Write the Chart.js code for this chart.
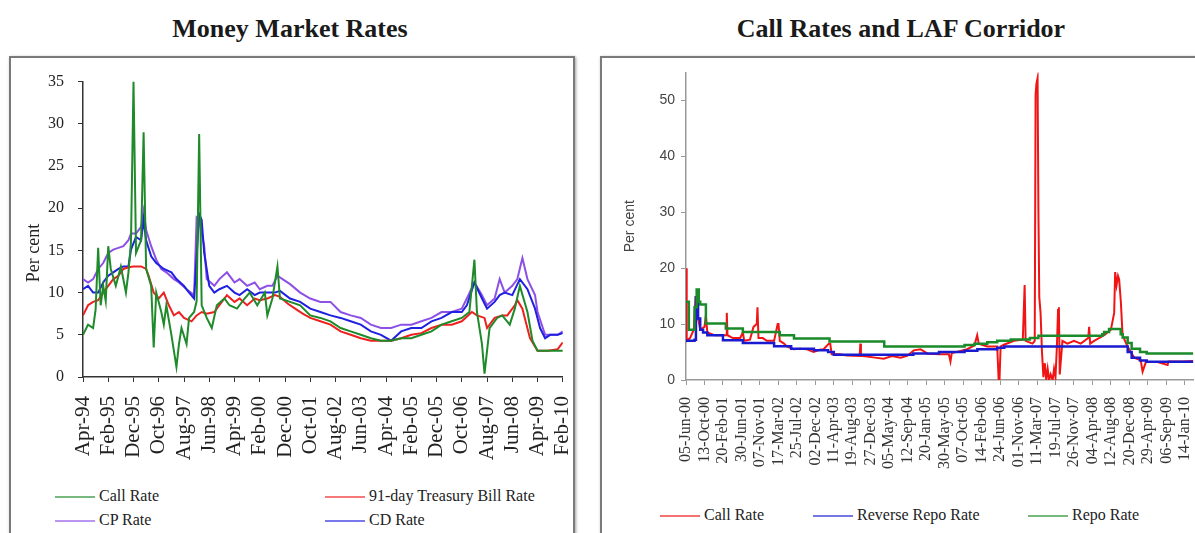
<!DOCTYPE html>
<html>
<head>
<meta charset="utf-8">
<title>Money Market Rates / Call Rates and LAF Corridor</title>
<script src="https://cdn.jsdelivr.net/npm/chart.js"></script>
<style>
    html, body { margin: 0; padding: 0; background: #fff; overflow: hidden; width: 1195px; height: 533px; }
    .title { position: absolute; top: 14px; height: 34px; line-height: 34px; text-align: center;
             font: bold 26px "Liberation Serif", "Times New Roman", serif; color: #1a1a1a; }
    .frame { position: absolute; top: 56px; height: 500px; border: 2px solid #7a7a7a;
             box-shadow: 1px 1px 3px #a0a0a0; background: #fff; }
    canvas { position: absolute; }
    .lg { position: absolute; font: 16px "Liberation Serif", "Times New Roman", serif; color: #222; white-space: nowrap; }
    .lg i { display: inline-block; width: 40px; border-top: 2px solid; vertical-align: middle; margin-right: 4px; opacity: .6; }
</style>
</head>
<body>
    <div class="title" style="left:10px; width:560px;">Money Market Rates</div>
    <div class="title" style="left:601px; width:600px;">Call Rates and LAF Corridor</div>
    <div class="frame" style="left:9px; width:562px;"></div>
    <div class="frame" style="left:600px; width:620px;"></div>
    <canvas id="mm" width="590" height="429" style="left:12px; top:58px;"></canvas>
    <canvas id="laf" width="612" height="422" style="left:604px; top:58px;"></canvas>

    <script>
        // ---- Money Market Rates: x = months since Apr-94 ----
        const mmTicks = ['Apr-94', 'Feb-95', 'Dec-95', 'Oct-96', 'Aug-97', 'Jun-98', 'Apr-99', 'Feb-00', 'Dec-00', 'Oct-01',
                         'Aug-02', 'Jun-03', 'Apr-04', 'Feb-05', 'Dec-05', 'Oct-06', 'Aug-07', 'Jun-08', 'Apr-09', 'Feb-10'];

        const callRate = [[0,5.0],[2,6.2],[4,5.8],[5,8],[6,15.3],[7,8.5],[8,10.8],[9,9],[10,15.5],[11,12.8],[13,10.8],[15,13.1],
            [17,10],[18,12.4],[19,16],[20,35],[21,14.7],[23,16.2],[24,29],[25,12.8],[27,10.8],[28,3.5],[29,10],[31,7.7],[32,6.2],
            [33,8.5],[35,5],[37,1.2],[38,3.9],[39,5.8],[41,3.9],[42,7],[44,7.7],[45,9],[46,28.8],[47,8.5],[49,7],[51,5.8],[53,8.5],
            [56,9.3],[58,8.5],[61,8.1],[64,9.3],[66,10],[69,8.5],[72,10],[73,7.3],[75,9.3],[77,13.1],[78,9.3],[82,8.9],[86,8.5],
            [90,7.3],[94,7],[98,6.6],[102,5.8],[106,5.4],[110,5],[114,4.6],[118,4.3],[122,4.3],[126,4.6],[130,4.6],[134,5],
            [138,5.4],[142,6.2],[146,6.6],[150,7],[153,7.7],[155,13.9],[156,7.7],[158,3.9],[159,0.4],[161,5.8],[164,7],[166,7.3],
            [169,6.2],[171,8.1],[173,10.8],[176,7.7],[178,4.3],[180,3.1],[184,3.1],[190,3.1]];

        const tBill91 = [[0,7.3],[2,8.5],[4,8.9],[6,9.1],[8,10],[10,10.8],[12,11.6],[14,12],[16,12.8],[18,13],[20,13.1],[23,13.1],
            [25,12.8],[26,12],[28,10],[30,9.3],[32,10],[34,8.5],[36,7.3],[38,7.7],[40,7],[43,6.6],[45,7.3],[47,7.7],[49,7.5],
            [52,7.7],[54,8.5],[57,9.7],[60,8.9],[62,9.3],[65,8.5],[68,9.3],[70,9.1],[73,9.3],[76,9.7],[78,9.5],[81,8.7],[84,8.1],
            [87,7.5],[90,7],[94,6.6],[98,6.2],[102,5.4],[106,5],[110,4.6],[114,4.3],[118,4.3],[122,4.3],[126,4.6],[130,5],[134,5.2],
            [138,5.8],[142,6.2],[146,6.2],[150,6.6],[154,7.7],[156,7.3],[159,7],[160,5.8],[163,7],[166,7.3],[168,7.3],[171,8.5],
            [172,9.1],[174,8.1],[177,4.6],[180,3.1],[184,3.1],[188,3.3],[190,4.1]];

        const cpRate = [[0,11.6],[2,11.2],[4,11.6],[6,12.8],[8,13.5],[10,14.7],[12,15.1],[14,15.3],[16,15.5],[18,16.2],[19,17],
            [21,17],[23,17.8],[24,19.7],[25,17.4],[27,15.5],[29,13.9],[31,12.8],[33,12.4],[36,11.6],[38,11.2],[41,10.4],[44,9.7],
            [45,18.9],[46,18.6],[48,15.5],[49,11.6],[52,10.8],[54,11.6],[57,12.4],[60,11.2],[62,11.6],[65,10.8],[68,11.2],[70,10.4],
            [73,10.8],[75,10.8],[77,12],[79,11.6],[82,11],[86,10],[90,9.3],[94,8.9],[98,8.9],[102,7.7],[106,7.3],[110,7],[114,6.2],
            [118,5.8],[122,5.8],[126,6.2],[130,6.2],[134,6.6],[138,7],[142,7.7],[146,7.7],[150,8.1],[152,9.3],[155,11.2],[158,9.7],
            [160,8.5],[163,9.3],[165,11.6],[167,10],[170,10.8],[172,11.6],[174,14.1],[176,11.6],[179,9.7],[180,7.7],[183,5],
            [185,5],[188,5],[190,5.4]];

        const cdRate = [[0,10.4],[2,10.8],[4,10],[6,10],[8,11.2],[10,12],[12,12.4],[14,12.8],[16,13.1],[18,13.1],[19,15.1],
            [21,16.6],[23,16.2],[24,18.6],[25,16.2],[27,14.3],[29,13.5],[32,12.8],[35,12.4],[37,11.6],[40,10.8],[42,10],[44,9.3],
            [46,19.3],[47,18.6],[48,14.7],[50,10.8],[52,10],[54,10.4],[57,10.8],[60,10],[62,9.7],[65,10.4],[68,9.7],[70,10],
            [73,10],[76,10],[78,10.2],[82,9.3],[86,8.9],[90,8.1],[94,7.7],[98,7.3],[102,7],[106,6.6],[110,6.2],[114,5.4],[118,5],
            [122,4.3],[126,5.4],[130,5.8],[134,5.8],[138,6.6],[142,7],[146,7.7],[150,7.7],[152,8.5],[155,11.2],[158,9.3],[160,8.1],
            [163,8.9],[165,9.7],[167,10],[170,9.7],[173,11.6],[176,10.4],[179,8.1],[181,5.8],[183,4.6],[185,5],[188,5],[190,5.2]];

        // ---- Call Rates and LAF Corridor: x = days since 05-Jun-00 ----
        const lafTicks = ['05-Jun-00', '13-Oct-00', '20-Feb-01', '30-Jun-01', '07-Nov-01', '17-Mar-02', '25-Jul-02', '02-Dec-02',
                          '11-Apr-03', '19-Aug-03', '27-Dec-03', '05-May-04', '12-Sep-04', '20-Jan-05', '30-May-05', '07-Oct-05',
                          '14-Feb-06', '24-Jun-06', '01-Nov-06', '11-Mar-07', '19-Jul-07', '26-Nov-07', '04-Apr-08', '12-Aug-08',
                          '20-Dec-08', '29-Apr-09', '06-Sep-09', '14-Jan-10'];

        const lafCall = [[0,20],[5,7],[28,7.5],[55,9],[68,15],[85,11],[100,9],[130,9.5],[140,11.5],[150,8.5],[200,8],[263,8],
            [282,8],[287,12],[292,8],[330,7.5],[381,7.5],[400,8.5],[410,7],[450,7.2],[475,9.5],[498,10],[503,13],[510,7.5],
            [540,7.5],[569,7],[620,7],[645,10],[651,10],[660,7],[690,6.5],[710,6],[757,5.5],[800,5.6],[851,5.5],[898,5],[940,5.4],
            [968,5.5],[1005,6.5],[1015,6.5],[1025,4.6],[1080,4.6],[1133,4.4],[1222,4.3],[1227,6.5],[1231,4.3],[1274,4.2],[1330,4.0],
            [1391,3.8],[1450,4.3],[1509,4.0],[1556,4.3],[1603,5.3],[1650,5.5],[1700,4.7],[1791,4.6],[1850,4.6],[1861,3.3],[1870,4.8],
            [1932,5.2],[1979,5.5],[2030,6.2],[2049,8],[2060,6.5],[2120,6],[2190,6],[2200,0],[2206,0],[2214,6],[2237,6.3],[2308,7],
            [2370,7.2],[2383,17],[2390,7],[2438,6.5],[2454,7],[2460,51],[2466,53],[2474,54],[2480,30],[2486,14.8],[2495,12],
            [2505,5],[2515,0.5],[2525,3],[2535,0],[2545,2],[2555,0],[2566,1],[2580,0],[2590,2],[2600,0.5],[2610,6],[2618,12.5],
            [2624,13],[2630,1],[2649,7],[2684,6.5],[2730,7],[2778,6.5],[2830,7.5],[2837,9.5],[2844,6.5],[2872,7],[2942,8],[2990,9],
            [3013,12],[3020,19.3],[3030,17],[3040,18.6],[3048,18],[3060,14],[3072,8],[3107,6],[3154,4],[3200,3.5],[3213,1.5],
            [3236,3.2],[3318,3.2],[3389,2.7],[3395,3.3],[3436,3.3],[3500,3.3],[3570,3.4]];

        const reverseRepo = [[0,7],[60,7.2],[70,14.8],[85,11],[100,9],[120,8.5],[150,8],[260,7.1],[400,6.6],[620,6.05],[740,5.6],
            [900,5.3],[1000,5.0],[1040,4.5],[1600,4.75],[1780,5.0],[1960,5.25],[2050,5.5],[2190,5.75],[2240,6.0],[3108,5.0],
            [3136,4.0],[3195,3.5],[3242,3.25],[3570,3.25]];

        const repoRate = [[0,14],[20,9],[60,13],[75,16.2],[90,14],[100,13.5],[140,10.1],[280,9.2],[400,8.6],[660,8.0],[760,7.4],
            [1010,6.9],[1395,6.0],[1960,6.25],[2030,6.5],[2120,6.75],[2190,7.0],[2285,7.25],[2420,7.5],[2480,7.9],[2929,8.2],
            [2942,8.6],[2977,9.1],[3059,8.2],[3073,7.6],[3108,6.6],[3136,5.6],[3195,5.0],[3242,4.75],[3570,4.75]];

        const serif = '"Liberation Serif", "Times New Roman", serif';
        const sans = '"Liberation Sans", Arial, sans-serif';
        const pts = a => a.map(([x, y]) => ({ x, y }));

        function axisStyle(color) {
            return {
                grid: { display: true, drawOnChartArea: false, drawTicks: true, tickLength: 5, color: color },
                border: { display: true, color: color, width: 1.5 }
            };
        }

        // left chart's "Per cent" sits a bit below the middle of its axis in the original
        const yCaption = {
            id: 'yCaption',
            afterDraw(chart, args, opts) {
                const ctx = chart.ctx;
                ctx.save();
                ctx.translate(opts.x, opts.y);
                ctx.rotate(-Math.PI / 2);
                ctx.font = opts.font;
                ctx.fillStyle = opts.color;
                ctx.textAlign = 'center';
                ctx.textBaseline = 'middle';
                ctx.fillText(opts.text, 0, 0);
                ctx.restore();
            }
        };

        const mmChart = new Chart(document.getElementById('mm'), {
            type: 'line',
            data: {
                datasets: [
                    { label: 'Call Rate', data: pts(callRate), borderColor: '#1e8a2a', order: 1 },
                    { label: '91-day Treasury Bill Rate', data: pts(tBill91), borderColor: '#ee2020', order: 2 },
                    { label: 'CP Rate', data: pts(cpRate), borderColor: '#8c50e6', order: 4 },
                    { label: 'CD Rate', data: pts(cdRate), borderColor: '#2020e0', order: 3 }
                ]
            },
            plugins: [yCaption],
            options: {
                responsive: false,
                animation: false,
                layout: { padding: { top: 17, right: 15, left: 0, bottom: 0 } },
                elements: { point: { radius: 0 }, line: { borderWidth: 2, tension: 0 } },
                plugins: {
                    legend: { display: false },
                    tooltip: { enabled: false },
                    yCaption: { text: 'Per cent', x: 22, y: 195, font: '18px ' + serif, color: '#222' }
                },
                scales: {
                    x: {
                        type: 'linear', min: 0, max: 190,
                        afterBuildTicks: s => { s.ticks = mmTicks.map((_, i) => ({ value: i * 10 })); },
                        afterFit: s => { s.height = 110; },
                        ticks: { autoSkip: false, minRotation: 90, maxRotation: 90, padding: 14, color: '#222',
                                 font: { family: serif, size: 21 }, callback: (v, i) => mmTicks[i] },
                        ...axisStyle('#333')
                    },
                    y: {
                        min: 0, max: 35,
                        afterFit: s => { s.width = 71; },
                        ticks: { stepSize: 5, padding: 14, color: '#222', font: { family: serif, size: 16 } },
                        ...axisStyle('#333')
                    }
                }
            }
        });

        const lafChart = new Chart(document.getElementById('laf'), {
            type: 'line',
            data: {
                datasets: [
                    { label: 'Call Rate', data: pts(lafCall), borderColor: '#f01414', borderWidth: 2, order: 3 },
                    { label: 'Reverse Repo Rate', data: pts(reverseRepo), borderColor: '#1a1ad0', borderWidth: 2.5, stepped: true, order: 2 },
                    { label: 'Repo Rate', data: pts(repoRate), borderColor: '#1a8a2a', borderWidth: 2.5, stepped: true, order: 1 }
                ]
            },
            options: {
                responsive: false,
                animation: false,
                layout: { padding: { top: 14, right: 0, left: 0, bottom: 0 } },
                elements: { point: { radius: 0 }, line: { tension: 0 } },
                plugins: { legend: { display: false }, tooltip: { enabled: false } },
                scales: {
                    x: {
                        type: 'linear', min: 0, max: 3570,
                        afterBuildTicks: s => { s.ticks = lafTicks.map((_, i) => ({ value: i * 130 })); },
                        afterFit: s => { s.height = 100; },
                        ticks: { autoSkip: false, minRotation: 90, maxRotation: 90, padding: 12, color: '#333',
                                 font: { family: serif, size: 16 }, callback: (v, i) => lafTicks[i] },
                        ...axisStyle('#999')
                    },
                    y: {
                        min: 0, max: 55,
                        afterFit: s => { s.width = 82; },
                        ticks: { stepSize: 10, includeBounds: false, padding: 6, color: '#444', font: { family: sans, size: 14 } },
                        title: { display: true, text: 'Per cent', color: '#444', font: { family: sans, size: 14 },
                                 padding: { top: 18, bottom: 0 } },
                        ...axisStyle('#999')
                    }
                }
            }
        });

        // legends as html below each chart, built from the datasets
        function htmlLegend(chart, spots) {
            chart.data.datasets.forEach((ds, i) => {
                const el = document.createElement('div');
                el.className = 'lg';
                el.style.left = spots[i][0] + 'px';
                el.style.top = spots[i][1] + 'px';
                el.innerHTML = '<i style="border-color:' + ds.borderColor + '"></i>' + ds.label;
                document.body.appendChild(el);
            });
        }
        htmlLegend(mmChart, [[55, 487], [325, 487], [55, 511], [325, 511]]);
        htmlLegend(lafChart, [[660, 506], [813, 506], [1028, 506]]);
    </script>
</body>
</html>
